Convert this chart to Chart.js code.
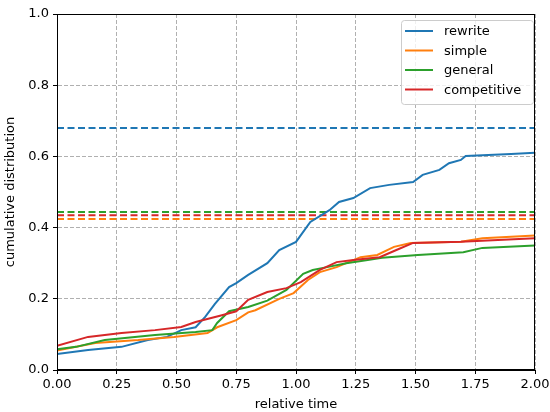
<!DOCTYPE html>
<html>
<head>
<meta charset="utf-8">
<script src="https://cdn.jsdelivr.net/npm/chart.js@4/dist/chart.umd.min.js"></script>
<style>
  html, body { margin: 0; padding: 0; background: #fff; }
  #wrap { width: 550px; height: 412px; }
</style>
</head>
<body>
<div id="wrap"><canvas id="cdf"></canvas></div>
<script>
// series names + colours (matplotlib tab10)
const names = ["rewrite", "simple", "general", "competitive"];
const colors = ["#1f77b4", "#ff7f0e", "#2ca02c", "#d62728"];

// cumulative distribution curves
const rewriteX = [0, 0.13, 0.27, 0.38, 0.46, 0.52, 0.58, 0.62, 0.66, 0.72, 0.75, 0.8, 0.88, 0.93, 1.0, 1.06, 1.14, 1.18, 1.24, 1.31, 1.39, 1.49, 1.53, 1.6, 1.64, 1.69, 1.71, 1.9, 2.0];
const rewriteY = [0.045, 0.056, 0.065, 0.084, 0.093, 0.112, 0.12, 0.149, 0.185, 0.233, 0.244, 0.267, 0.30, 0.337, 0.36, 0.416, 0.449, 0.472, 0.483, 0.511, 0.52, 0.528, 0.548, 0.562, 0.581, 0.59, 0.601, 0.607, 0.61];

const simpleX = [0, 0.16, 0.34, 0.49, 0.63, 0.67, 0.75, 0.8, 0.83, 0.93, 0.99, 1.05, 1.1, 1.17, 1.27, 1.34, 1.41, 1.48, 1.69, 1.78, 2.0];
const simpleY = [0.055, 0.076, 0.084, 0.093, 0.104, 0.12, 0.14, 0.162, 0.168, 0.2, 0.216, 0.253, 0.275, 0.289, 0.317, 0.323, 0.346, 0.357, 0.36, 0.37, 0.378];

const generalX = [0, 0.08, 0.2, 0.41, 0.58, 0.65, 0.67, 0.72, 0.8, 0.88, 0.96, 1.03, 1.07, 1.13, 1.21, 1.3, 1.36, 1.51, 1.7, 1.78, 2.0];
const generalY = [0.058, 0.065, 0.084, 0.098, 0.107, 0.112, 0.132, 0.165, 0.177, 0.195, 0.225, 0.27, 0.281, 0.289, 0.30, 0.309, 0.315, 0.323, 0.331, 0.343, 0.35];

const competitiveX = [0, 0.13, 0.27, 0.41, 0.52, 0.58, 0.69, 0.75, 0.8, 0.88, 0.96, 1.02, 1.1, 1.17, 1.24, 1.35, 1.42, 1.49, 1.69, 2.0];
const competitiveY = [0.068, 0.093, 0.104, 0.112, 0.121, 0.135, 0.154, 0.165, 0.197, 0.219, 0.23, 0.247, 0.281, 0.303, 0.309, 0.317, 0.337, 0.357, 0.36, 0.37];

// dashed reference levels
const levels = [0.68, 0.424, 0.444, 0.435];

const xTicks = [0, 0.25, 0.5, 0.75, 1.0, 1.25, 1.5, 1.75, 2.0];
const yTicks = [0, 0.2, 0.4, 0.6, 0.8, 1.0];

const curveX = [rewriteX, simpleX, generalX, competitiveX];
const curveY = [rewriteY, simpleY, generalY, competitiveY];

const datasets = [];
names.forEach((n, i) => {
  datasets.push({
    label: n,
    data: curveX[i].map((x, k) => ({ x: x, y: curveY[i][k] })),
    borderColor: colors[i],
    borderWidth: 2,
    pointRadius: 0,
    fill: false,
    order: 10 - i
  });
});
names.forEach((n, i) => {
  datasets.push({
    label: n + " level",
    data: [{ x: 0, y: levels[i] }, { x: 2, y: levels[i] }],
    borderColor: colors[i],
    borderWidth: 2,
    borderDash: [7, 3.5],
    pointRadius: 0,
    fill: false,
    order: 20 - i
  });
});

// box round the plot + legend in the top right corner
const framePlugin = {
  id: "frame",
  afterDraw(chart) {
    const { ctx, chartArea: a } = chart;
    ctx.save();
    ctx.strokeStyle = "#000";
    ctx.lineWidth = 1;
    ctx.setLineDash([]);
    ctx.strokeRect(a.left + 0.5, a.top + 0.5, a.right - a.left - 1, a.bottom - a.top - 1);

    // legend
    const bx = 401, by = 20, bw = 132, bh = 84;
    ctx.fillStyle = "rgba(255,255,255,0.8)";
    ctx.strokeStyle = "#cccccc";
    ctx.beginPath();
    ctx.roundRect(bx + 0.5, by + 0.5, bw, bh, 3);
    ctx.fill();
    ctx.stroke();
    ctx.font = "13px 'DejaVu Sans'";
    ctx.textBaseline = "middle";
    names.forEach((n, i) => {
      const y = by + 11 + i * 19.5;
      ctx.strokeStyle = colors[i];
      ctx.lineWidth = 2;
      ctx.beginPath();
      ctx.moveTo(405, y);
      ctx.lineTo(433, y);
      ctx.stroke();
      ctx.fillStyle = "#000";
      ctx.fillText(n, 444, y + 1);
    });
    ctx.restore();
  }
};

const gridCommon = {
  color: "#b0b0b0",
  lineWidth: 1,
  tickColor: "#000",
  tickLength: 4,
  tickBorderDash: [],
  tickWidth: 1
};
const borderCommon = { display: true, color: "#000", width: 1, dash: [4, 2] };

new Chart(document.getElementById("cdf"), {
  type: "line",
  data: { datasets: datasets },
  plugins: [framePlugin],
  options: {
    responsive: true,
    maintainAspectRatio: false,
    animation: false,
    layout: { padding: { top: 14, right: 15, left: 0, bottom: 0 } },
    plugins: {
      legend: { display: false },
      tooltip: { enabled: false }
    },
    scales: {
      x: {
        type: "linear",
        min: 0,
        max: 2,
        afterBuildTicks: (s) => { s.ticks = xTicks.map(v => ({ value: v })); },
        afterFit: (s) => { s.height = 42; s.paddingLeft = 0; s.paddingRight = 0; },
        grid: gridCommon,
        border: borderCommon,
        ticks: {
          color: "#000",
          font: { family: "DejaVu Sans", size: 13 },
          padding: 3,
          maxRotation: 0,
          callback: (v) => v.toFixed(2)
        },
        title: {
          display: true,
          text: "relative time",
          color: "#000",
          font: { family: "DejaVu Sans", size: 13 },
          padding: { top: 1, bottom: 0 }
        }
      },
      y: {
        type: "linear",
        min: 0,
        max: 1,
        afterBuildTicks: (s) => { s.ticks = yTicks.map(v => ({ value: v })); },
        afterFit: (s) => { s.width = 57; s.paddingTop = 0; s.paddingBottom = 0; },
        grid: gridCommon,
        border: borderCommon,
        ticks: {
          color: "#000",
          font: { family: "DejaVu Sans", size: 13 },
          padding: 4,
          callback: (v) => v.toFixed(1)
        },
        title: {
          display: true,
          text: "cumulative distribution",
          color: "#000",
          font: { family: "DejaVu Sans", size: 13 },
          padding: { top: 3, bottom: 0 }
        }
      }
    }
  }
});
</script>
</body>
</html>
